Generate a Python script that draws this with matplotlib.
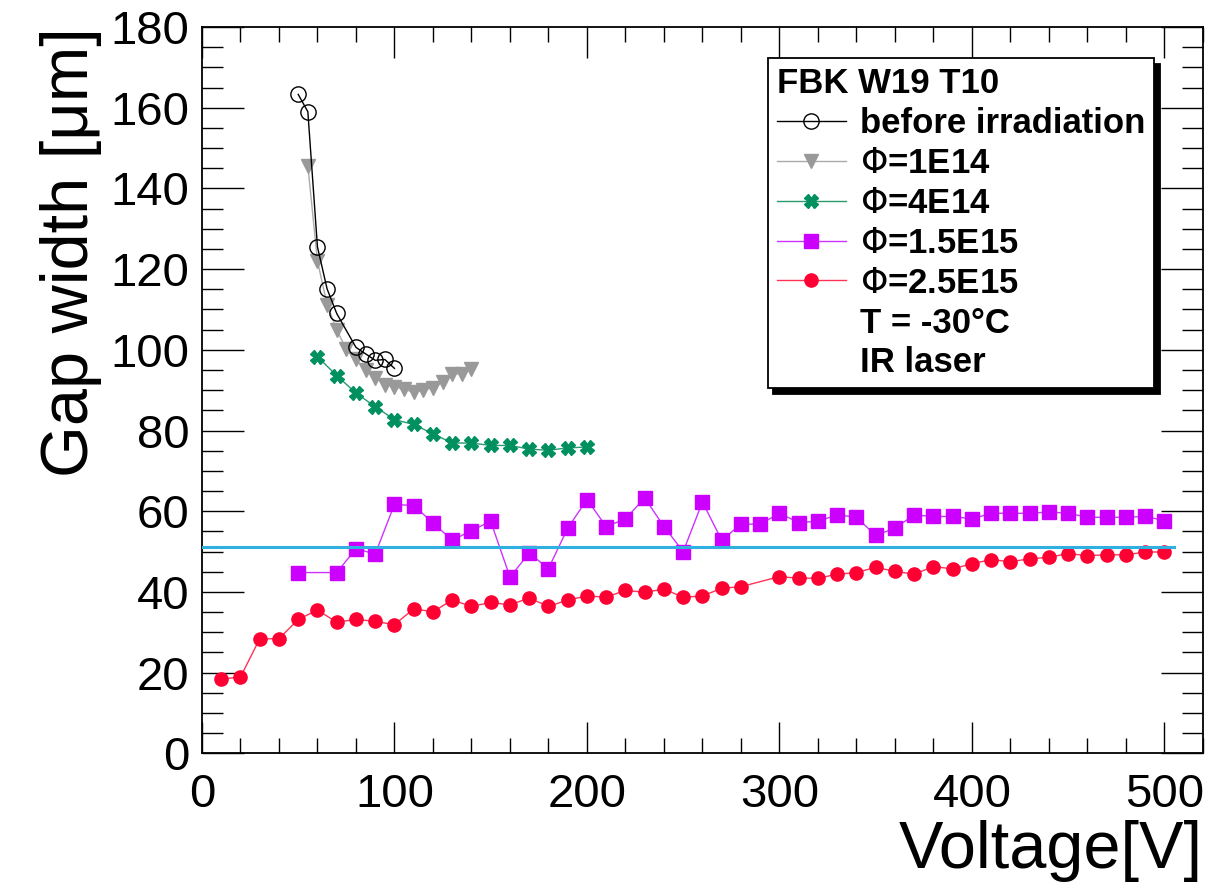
import numpy as np
import matplotlib.pyplot as plt
from matplotlib.lines import Line2D
from matplotlib.ticker import MultipleLocator

plt.rcParams['font.family'] = ['Liberation Sans', 'DejaVu Sans']

# before irradiation
v_before = [50, 55, 60, 65, 70, 80, 85, 90, 95, 100]
gap_before = [163.3, 159.0, 125.5, 115.1, 109.0, 100.6, 99.0, 97.4, 97.6, 95.4]

# phi = 1E14
v_1e14 = [55, 60, 65, 70, 75, 80, 85, 90, 95, 100, 105, 110, 115, 120, 125, 130, 135, 140]
gap_1e14 = [145.6, 122.0, 111.2, 105.0, 100.1, 97.6, 94.9, 93.0, 91.4, 90.8,
            90.2, 89.5, 90.0, 90.6, 92.1, 93.9, 94.1, 95.3]

# phi = 4E14
v_4e14 = [60, 70, 80, 90, 100, 110, 120, 130, 140, 150, 160, 170, 180, 190, 200]
gap_4e14 = [98.3, 93.6, 89.3, 85.9, 82.7, 81.5, 79.2, 76.9, 76.9, 76.3, 76.3,
            75.4, 75.1, 75.7, 75.9]

# phi = 1.5E15
v_15e15 = [50, 70, 80, 90, 100, 110, 120, 130, 140, 150, 160, 170, 180, 190, 200,
           210, 220, 230, 240, 250, 260, 270, 280, 290, 300, 310, 320, 330, 340,
           350, 360, 370, 380, 390, 400, 410, 420, 430, 440, 450, 460, 470, 480,
           490, 500]
gap_15e15 = [44.8, 44.8, 50.7, 49.4, 61.7, 61.4, 57.1, 52.8, 55.2, 57.5, 43.7,
             49.6, 45.8, 55.8, 62.9, 56.2, 58.1, 63.3, 56.2, 50.0, 62.3, 52.8,
             56.8, 56.8, 59.5, 57.2, 57.5, 59.1, 58.5, 54.0, 55.8, 59.1, 58.7,
             58.7, 58.1, 59.5, 59.5, 59.5, 59.8, 59.5, 58.5, 58.5, 58.5, 58.7,
             57.7]

# phi = 2.5E15
v_25e15 = [10, 20, 30, 40, 50, 60, 70, 80, 90, 100, 110, 120, 130, 140, 150, 160,
           170, 180, 190, 200, 210, 220, 230, 240, 250, 260, 270, 280, 300, 310,
           320, 330, 340, 350, 360, 370, 380, 390, 400, 410, 420, 430, 440, 450,
           460, 470, 480, 490, 500]
gap_25e15 = [18.4, 18.9, 28.4, 28.4, 33.2, 35.5, 32.5, 33.2, 32.7, 31.9, 35.8,
             35.1, 38.0, 36.4, 37.4, 36.8, 38.5, 36.4, 38.0, 39.0, 38.7, 40.4,
             39.9, 40.7, 38.7, 39.0, 40.9, 41.3, 43.8, 43.4, 43.4, 44.4, 44.8,
             46.1, 45.1, 44.4, 46.3, 45.7, 47.0, 48.0, 47.5, 48.2, 48.6, 49.5,
             49.0, 49.2, 49.2, 49.9, 49.9]

# reference line
ref_v = [0, 505]
ref_gap = [51.1, 51.1]

fig = plt.figure(figsize=(12.3, 8.96), dpi=100)
ax = fig.add_axes([0.1642, 0.1592, 0.8138, 0.8107])

ax.plot(v_before, gap_before, '-', color='black', lw=1.0, marker='o', ms=11,
        mfc='none', mec='black', mew=1.0, label='before irradiation', zorder=5)
ax.plot(v_1e14, gap_1e14, '-', color='#aaaaaa', lw=1.0, marker='v', ms=10,
        mfc='#999999', mec='#999999', label=r'$\Phi$=1E14', zorder=4)
ax.plot(v_4e14, gap_4e14, '-', color='#2a9a70', lw=1.0, marker='X', ms=10,
        mfc='#00905f', mec='#00905f', label=r'$\Phi$=4E14', zorder=4)
ax.plot(v_15e15, gap_15e15, '-', color='#cc33ff', lw=1.0, marker='s', ms=9.5,
        mfc='#cc00ff', mec='#cc00ff', label=r'$\Phi$=1.5E15', zorder=4)
ax.plot(v_25e15, gap_25e15, '-', color='#ff3355', lw=1.0, marker='o', ms=9.5,
        mfc='#ff0033', mec='#ff0033', label=r'$\Phi$=2.5E15', zorder=4)
ax.plot(ref_v, ref_gap, '-', color='#30b0e0', lw=2.2, zorder=6)

ax.set_xlim(0, 520)
ax.set_ylim(0, 180)
ax.xaxis.set_major_locator(MultipleLocator(100))
ax.xaxis.set_minor_locator(MultipleLocator(20))
ax.yaxis.set_major_locator(MultipleLocator(20))
ax.yaxis.set_minor_locator(MultipleLocator(5))
ax.tick_params(which='both', direction='in', top=True, right=True, width=1)
ax.tick_params(which='major', labelsize=34, length=22, pad=9)
ax.tick_params(axis='x', which='major', pad=14)
ax.tick_params(which='minor', length=11)
ax.tick_params(axis='y', which='major', length=30)
ax.tick_params(axis='y', which='minor', length=15)
for sp in ax.spines.values():
    sp.set_linewidth(1.3)

ax.set_xlabel('Voltage[V]', fontsize=48, loc='right', labelpad=2)
ax.set_ylabel('Gap width [\u03bcm]', fontsize=48, loc='top', labelpad=6)

handles, labels = ax.get_legend_handles_labels()
blank = Line2D([], [], linestyle='none', marker=None)
handles += [blank, blank]
labels += ['T = -30\u00b0C', 'IR laser']
leg = ax.legend(handles, labels, loc='upper left', bbox_to_anchor=(0.5654, 0.957),
                title='FBK W19 T10', alignment='left',
                prop={'weight': 'bold', 'size': 25},
                title_fontproperties={'weight': 'bold', 'size': 25},
                fancybox=False, edgecolor='black', framealpha=1,
                shadow={'color': 'black', 'alpha': 1, 'ox': 4, 'oy': -4},
                handlelength=2.0, handletextpad=0.4, labelspacing=0.2,
                borderpad=0.25, borderaxespad=0, markerscale=1.0)
leg.get_frame().set_linewidth(1.3)
leg.set_zorder(10)

fig.savefig('out.png', dpi=100)
